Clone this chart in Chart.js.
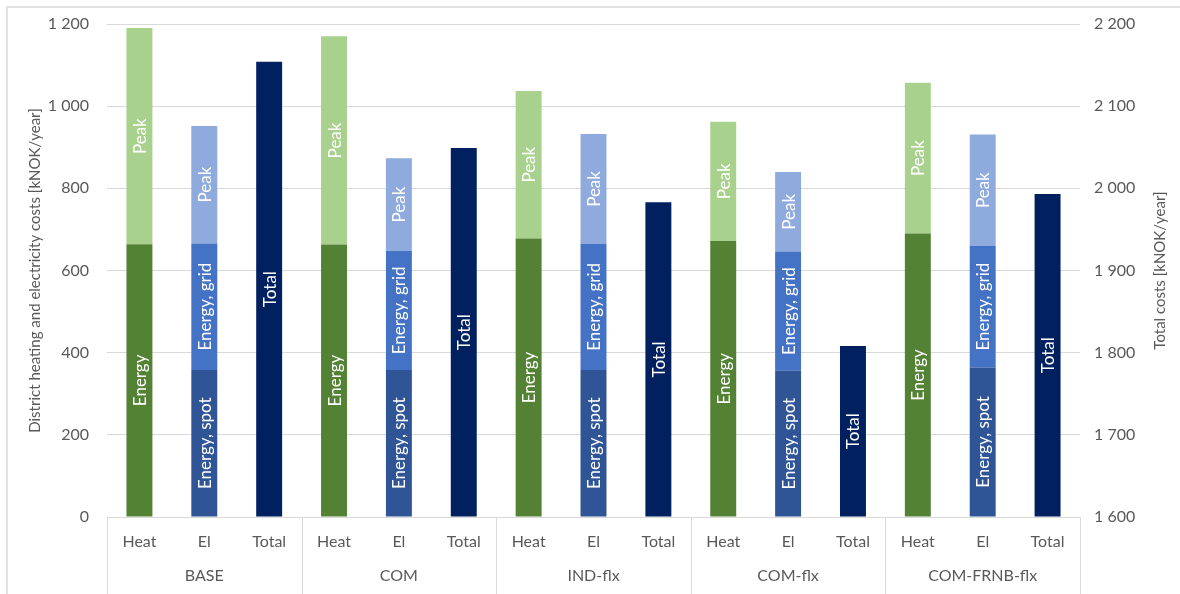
<!DOCTYPE html>
<html>
<head>
<meta charset="utf-8">
<title>District heating and electricity costs</title>
<script src="https://cdn.jsdelivr.net/npm/chart.js@4.4.1/dist/chart.umd.min.js"></script>
<style>
    html, body { margin: 0; padding: 0; background: #fff; }
    #wrap { position: relative; width: 1180px; height: 594px; overflow: hidden; }
    #wrap canvas { position: absolute; left: 0; top: 0; }
    #frame {
        position: absolute; left: 6px; top: 6px; width: 1220px; height: 640px;
        border: 2px solid #e2e2e2; box-sizing: border-box; pointer-events: none;
    }
</style>
</head>
<body>
<div id="wrap">
    <canvas id="cost-chart" width="1180" height="594"></canvas>
    <div id="frame"></div>
</div>
<script>
// Scenarios and the three bars shown for each
const scenarios = ['BASE', 'COM', 'IND-flx', 'COM-flx', 'COM-FRNB-flx'];
const parts = ['Heat', 'El', 'Total'];

// District heating (kNOK/year)
const heatEnergy = [664, 663, 678, 672, 690];
const heatPeak = [526, 507, 359, 290, 367];

// Electricity (kNOK/year)
const elSpot = [358, 358, 358, 356, 364];
const elGrid = [308, 290, 307, 290, 296];
const elPeak = [286, 225, 267, 194, 271];

// Total costs, right axis (kNOK/year)
const totalCost = [2154, 2049, 1983, 1808, 1993];
const TOTAL_AXIS_MIN = 1600;
const TOTAL_AXIS_MAX = 2200;

const FONT = 'Lato';
const TEXT_COLOR = '#595959';
const GRID_COLOR = '#d9d9d9';
const RIGHT_TITLE = 'Total costs [kNOK/year]';

// one x slot per scenario/part pair
const labels = scenarios.flatMap(() => parts);

// put a scenario series into the slots of one part, null elsewhere
const spread = (values, partName) => {
    const idx = parts.indexOf(partName);
    const out = new Array(labels.length).fill(null);
    values.forEach((v, s) => { out[s * parts.length + idx] = v; });
    return out;
};

const formatThousands = (v) => String(v).replace(/\B(?=(\d{3})+(?!\d))/g, ' ');

const barDefaults = { stack: 'cost', skipNull: true, categoryPercentage: 1, barPercentage: 0.4 };

const datasets = [
    { ...barDefaults, label: 'Heat energy', segmentLabel: 'Energy', data: spread(heatEnergy, 'Heat'), backgroundColor: '#548235', yAxisID: 'y' },
    { ...barDefaults, label: 'Heat peak', segmentLabel: 'Peak', data: spread(heatPeak, 'Heat'), backgroundColor: '#a9d18e', yAxisID: 'y' },
    { ...barDefaults, label: 'Energy, spot', segmentLabel: 'Energy, spot', data: spread(elSpot, 'El'), backgroundColor: '#2f5597', yAxisID: 'y' },
    { ...barDefaults, label: 'Energy, grid', segmentLabel: 'Energy, grid', data: spread(elGrid, 'El'), backgroundColor: '#4472c4', yAxisID: 'y' },
    { ...barDefaults, label: 'El peak', segmentLabel: 'Peak', data: spread(elPeak, 'El'), backgroundColor: '#8faadc', yAxisID: 'y' },
    // total bars grow from the bottom of the right axis, not from zero
    { ...barDefaults, label: 'Total', segmentLabel: 'Total', data: spread(totalCost, 'Total'), backgroundColor: '#002060', yAxisID: 'y2', base: TOTAL_AXIS_MIN }
];

// white rotated text in the middle of each bar segment
const segmentLabels = {
    id: 'segmentLabels',
    afterDatasetsDraw(chart) {
        const { ctx } = chart;
        ctx.save();
        ctx.fillStyle = '#ffffff';
        ctx.font = `17px ${FONT}`;
        ctx.textAlign = 'center';
        ctx.textBaseline = 'middle';
        chart.data.datasets.forEach((ds, i) => {
            const meta = chart.getDatasetMeta(i);
            meta.data.forEach((bar, j) => {
                if (ds.data[j] == null) return;
                const { x, y, base } = bar.getProps(['x', 'y', 'base'], true);
                ctx.save();
                ctx.translate(x, (y + base) / 2);
                ctx.rotate(-Math.PI / 2);
                ctx.fillText(ds.segmentLabel, 0, 1);
                ctx.restore();
            });
        });
        ctx.restore();
    }
};

// vertical dividers between the scenario groups under the axis
const groupDividers = {
    id: 'groupDividers',
    afterDraw(chart) {
        const xs = chart.scales.x;
        const { ctx } = chart;
        const half = (xs.getPixelForValue(1) - xs.getPixelForValue(0)) / 2;
        ctx.save();
        ctx.strokeStyle = GRID_COLOR;
        ctx.lineWidth = 1;
        for (let k = 0; k <= scenarios.length; k++) {
            const px = Math.round(xs.getPixelForValue(k * parts.length) - half) + 0.5;
            ctx.beginPath();
            ctx.moveTo(px, xs.top);
            ctx.lineTo(px, chart.height);
            ctx.stroke();
        }
        ctx.restore();
    }
};

// right axis title reads bottom-to-top, like the left one
const rightAxisTitle = {
    id: 'rightAxisTitle',
    afterDraw(chart) {
        const s = chart.scales.y2;
        const { ctx } = chart;
        ctx.save();
        ctx.fillStyle = TEXT_COLOR;
        ctx.font = `15px ${FONT}`;
        ctx.textAlign = 'center';
        ctx.textBaseline = 'middle';
        ctx.translate(s.right - 20, (s.top + s.bottom) / 2);
        ctx.rotate(-Math.PI / 2);
        ctx.fillText(RIGHT_TITLE, 0, 0);
        ctx.restore();
    }
};

Chart.defaults.font.family = FONT;
Chart.defaults.color = TEXT_COLOR;

// the gap between value labels and plot comes from an invisible tick mark,
// so it does not add to the axis' vertical padding
new Chart(document.getElementById('cost-chart'), {
    type: 'bar',
    data: { labels, datasets },
    options: {
        responsive: false,
        animation: false,
        layout: { padding: { top: 24, left: 0, right: 0, bottom: 0 } },
        plugins: {
            legend: { display: false },
            tooltip: { enabled: false }
        },
        scales: {
            x: {
                stacked: true,
                weight: 0,
                grid: { display: false, drawTicks: false },
                border: { display: true, color: GRID_COLOR, width: 1 },
                ticks: { color: TEXT_COLOR, font: { size: 16 }, padding: 15, maxRotation: 0, autoSkip: false },
                afterFit: (s) => { s.height = 40; }
            },
            x2: {
                type: 'category',
                position: 'bottom',
                labels: scenarios,
                offset: true,
                weight: 1,
                grid: { display: false, drawTicks: false },
                border: { display: false },
                ticks: { color: TEXT_COLOR, font: { size: 16 }, padding: 9, maxRotation: 0, autoSkip: false },
                afterFit: (s) => { s.height = 37; }
            },
            y: {
                stacked: true,
                position: 'left',
                min: 0,
                max: 1200,
                grid: { color: GRID_COLOR, drawTicks: true, tickLength: 18, tickColor: 'rgba(0,0,0,0)' },
                border: { display: false },
                ticks: { stepSize: 200, color: TEXT_COLOR, font: { size: 16 }, padding: 0, callback: formatThousands },
                title: {
                    display: true,
                    text: 'District heating and electricity costs [kNOK/year]',
                    color: TEXT_COLOR,
                    font: { size: 15 },
                    padding: { top: 26, bottom: 0 }
                },
                afterFit: (s) => { s.width = 107; }
            },
            y2: {
                position: 'right',
                min: TOTAL_AXIS_MIN,
                max: TOTAL_AXIS_MAX,
                grid: { drawOnChartArea: false, drawTicks: true, tickLength: 14, tickColor: 'rgba(0,0,0,0)' },
                border: { display: false },
                ticks: { stepSize: 100, color: TEXT_COLOR, font: { size: 16 }, padding: 0, callback: formatThousands },
                afterFit: (s) => { s.width = 100; }
            }
        }
    },
    plugins: [segmentLabels, groupDividers, rightAxisTitle]
});
</script>
</body>
</html>
